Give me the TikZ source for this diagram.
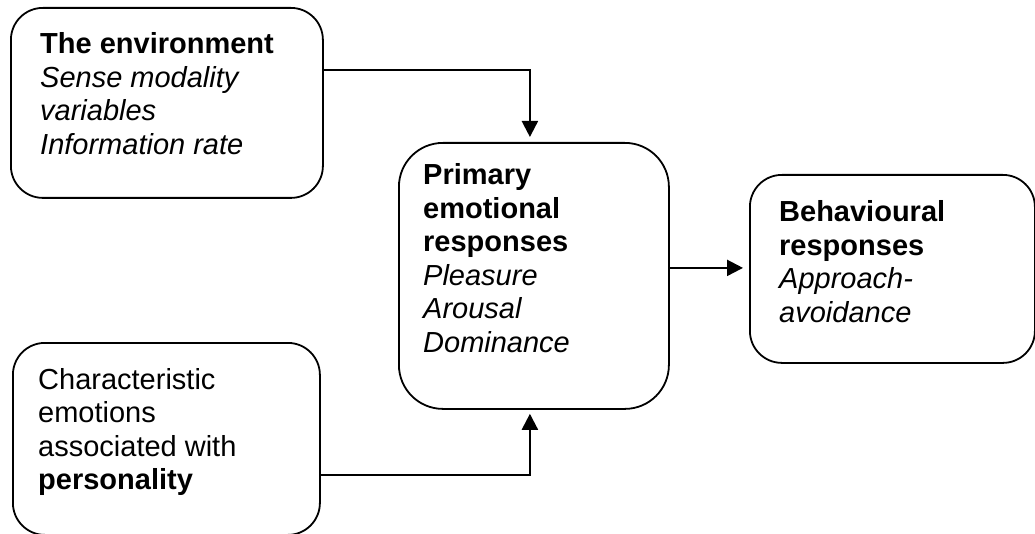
\documentclass[tikz,border=0pt]{standalone}
\usepackage{fontspec}
\setmainfont{Liberation Sans}
\usetikzlibrary{arrows.meta}
\begin{document}
\begin{tikzpicture}[x=1pt,y=-1pt,
  box/.style={draw, line width=1.8pt, rounded corners=32pt, inner sep=0pt, anchor=north west},
  txt/.style={anchor=base west, inner sep=0pt, font=\fontsize{29}{33.5}\selectfont},
  arr/.style={line width=2.2pt, -{Triangle[length=16pt,width=16pt]}, shorten >=5pt}]
\useasboundingbox (0,0) rectangle (1035,534);

% boxes
\node[box, minimum width=312pt, minimum height=190pt] (env) at (10,7) {};
\node[box, rounded corners=44pt, minimum width=270pt, minimum height=266pt] (prim) at (398,142) {};
\node[box, minimum width=285pt, minimum height=188pt] (beh) at (749,174) {};
\node[box, minimum width=307pt, minimum height=192pt] (pers) at (12,342) {};

% box texts
\node[txt] (envtxt) at (40,54) {\vtop{\hbox{\bfseries The environment}\hbox{\itshape Sense modality}\hbox{\itshape variables}\hbox{\itshape Information rate}}};
\node[txt] (primtxt) at (423,185) {\vtop{\hbox{\bfseries Primary}\hbox{\bfseries emotional}\hbox{\bfseries responses}\hbox{\itshape Pleasure}\hbox{\itshape Arousal}\hbox{\itshape Dominance}}};
\node[txt] (behtxt) at (779,222) {\vtop{\hbox{\bfseries Behavioural}\hbox{\bfseries responses}\hbox{\itshape Approach-}\hbox{\itshape avoidance}}};
\node[txt] (perstxt) at (38,389) {\vtop{\hbox{Characteristic}\hbox{emotions}\hbox{associated with}\hbox{\bfseries personality}}};

% connectors
\draw[arr] ([yshift=33pt]env.east) -| ([xshift=-4pt]prim.north);
\coordinate (r) at ([yshift=8pt]prim.east);
\draw[arr, shorten >=6pt] (r) -- (r -| beh.west);
\draw[arr, shorten >=4pt] ([yshift=-36pt]pers.east) -| ([xshift=-4pt]prim.south);
\end{tikzpicture}
\end{document}
